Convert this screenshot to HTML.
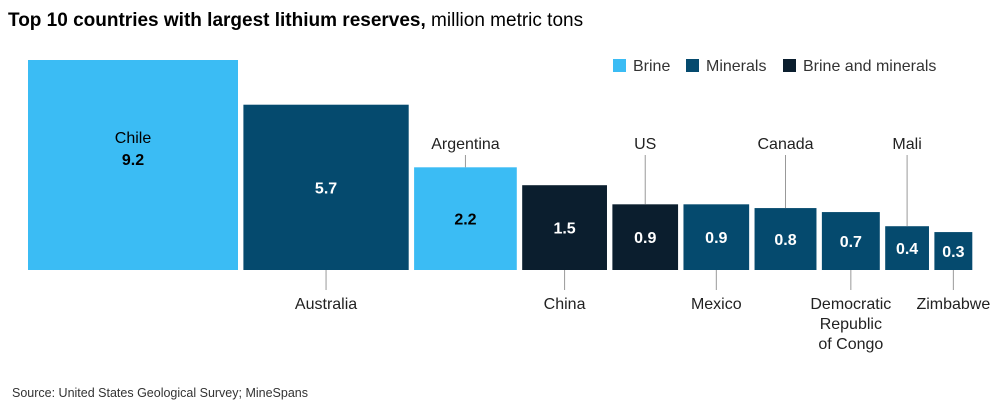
<!DOCTYPE html>
<html><head><meta charset="utf-8"><style>
body{margin:0;background:#fff;font-family:"Liberation Sans",sans-serif;}
#c{position:relative;width:991px;height:409px;overflow:hidden}
</style></head><body>
<div id="c">
<svg id="s" width="991" height="409">
<text x="8" y="26" font-size="19" fill="#000"><tspan font-weight="bold">Top 10 countries with largest lithium reserves,</tspan> million metric tons</text>
<text x="12" y="397" font-size="12.5" fill="#333">Source: United States Geological Survey; MineSpans</text>
<g>
<rect x="613" y="59" width="13" height="13" fill="#3bbcf4"/>
<text x="633" y="71" font-size="16" fill="#333">Brine</text>
<rect x="686" y="59" width="13" height="13" fill="#054a6e"/>
<text x="706" y="71" font-size="16" fill="#333">Minerals</text>
<rect x="783" y="59" width="13" height="13" fill="#0b1e2e"/>
<text x="803" y="71" font-size="16" fill="#333">Brine and minerals</text>
</g>
<g id="bars"></g>
</svg>
</div>
<script>
const countries=["Chile","Australia","Argentina","China","US","Mexico","Canada","Democratic|Republic|of Congo","Mali","Zimbabwe"];
const values=[9.2,5.7,2.2,1.5,0.9,0.9,0.8,0.7,0.4,0.3];
const types=["brine","minerals","brine","both","both","minerals","minerals","minerals","minerals","minerals"];
const labelPos=["inside","below","above","below","above","below","above","below","above","below"];
const colors={brine:"#3bbcf4",minerals:"#054a6e",both:"#0b1e2e"};
const base=270, x0=28, gap=5.4;
const k=210/Math.sqrt(9.2);
const side=v=>Math.sqrt(v)*k;
const g=document.getElementById('bars');
const NS="http://www.w3.org/2000/svg";
function mk(t,a){const e=document.createElementNS(NS,t);for(const n in a)e.setAttribute(n,a[n]);g.appendChild(e);return e;}
let x=x0;
countries.forEach((c,i)=>{
  const s=side(values[i]);const cx=x+s/2;const slug=c.split('|')[0].toLowerCase();
  const r=mk('rect',{x:x,y:base-s,width:s,height:s,fill:colors[types[i]]});
  
  
  const light=types[i]==="brine";
  const vy=labelPos[i]==="inside"?base-s+s*0.5:base-s/2+6;
  const vt=mk('text',{x:cx,y:vy,'font-size':16,'font-weight':'bold','text-anchor':'middle',fill:light?'#000':'#fff'});
  vt.textContent=values[i].toFixed(1);
  
  
  const lines=c.split('|');
  let lbl;
  if(labelPos[i]==="inside"){
    lbl=mk('text',{x:cx,y:vy-22,'font-size':16,'text-anchor':'middle',fill:'#000'});lbl.textContent=c;
  }else if(labelPos[i]==="above"){
    const ln=mk('line',{x1:cx,x2:cx,y1:155,y2:base-s,stroke:'#999','stroke-width':1});
    
    
    lbl=mk('text',{x:cx,y:149,'font-size':16,'text-anchor':'middle',fill:'#222'});lbl.textContent=c;
  }else{
    const ln=mk('line',{x1:cx,x2:cx,y1:base,y2:290,stroke:'#999','stroke-width':1});
    
    
    lbl=mk('text',{x:cx,y:309,'font-size':16,'text-anchor':'middle',fill:'#222'});
    lines.forEach((l,j)=>{const ts=document.createElementNS(NS,'tspan');ts.setAttribute('x',cx);ts.setAttribute('dy',j?20:0);ts.textContent=l;lbl.appendChild(ts);});
  }
  
  
  x+=s+gap;
});
</script>
</body></html>
